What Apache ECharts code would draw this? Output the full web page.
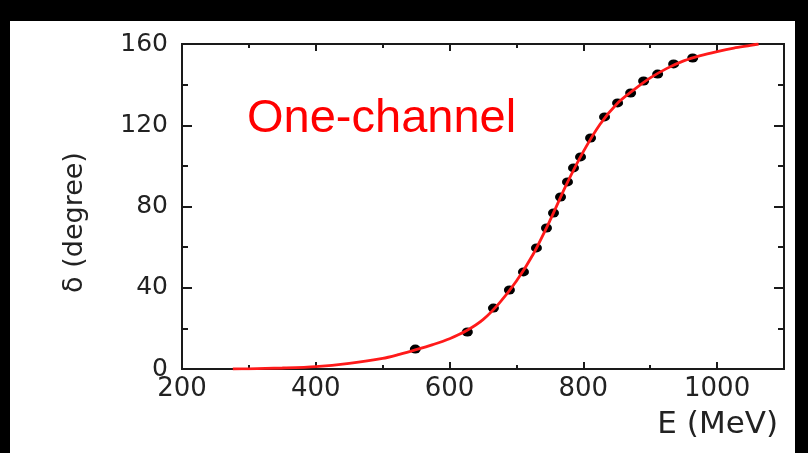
<!DOCTYPE html>
<html><head><meta charset="utf-8">
<script src="https://cdn.jsdelivr.net/npm/echarts@6/dist/echarts.min.js"></script>
<style>html,body{margin:0;padding:0;background:#000}#c{width:808px;height:453px}</style>
</head><body><div id="c"></div><script>
const pointE = [548.8,626.6,665.6,689.5,710.5,729.9,744.9,755.4,765.9,776.3,785.3,795.8,810.8,831.7,851.2,870.7,890.1,911.1,935.0,963.5];
const pointDelta = [9.8,18.2,30.0,38.9,47.8,59.6,69.4,76.8,84.7,92.1,99.0,104.4,113.7,124.1,131.0,135.9,141.8,145.2,150.2,153.1];
const curveE = [276,300,350,400,450,500,525,550,575,600,625,650,675,700,725,750,775,800,825,850,875,900,925,950,975,1000,1025,1050,1062];
const curveDelta = [0,0.1,0.5,1.2,2.8,5.2,7.2,9.5,12,14.9,18.8,24.3,32.7,43.3,56.5,73,91,107,120.5,130.5,137.3,143.3,148,151.7,154.3,156.3,158,159.3,160];
const xTickLabels = [200,400,600,800,1000];
const yTickLabels = [0,40,80,120,160];
const xName = 'E (MeV)';
const yName = 'δ (degree)';
const annotation = 'One-channel';

const chart = echarts.init(document.getElementById('c'));
const axisCol = '#1a1a1a';
const labelCol = '#222';
function xAx(pos, major, withLabel) {
  return {
    type: 'value', position: pos, min: 200, max: 1100, interval: major ? 200 : 100,
    axisLine: { show: true, onZero: false, lineStyle: { color: axisCol, width: 2 } },
    axisTick: { show: true, inside: true, length: major ? 7 : 4, lineStyle: { color: axisCol, width: 2 } },
    splitLine: { show: false },
    axisLabel: withLabel ? {
      show: true, margin: 7, color: labelCol, fontFamily: 'DejaVu Sans', fontSize: 26,
      formatter: v => xTickLabels.indexOf(v) >= 0 ? String(v) : ''
    } : { show: false },
    name: withLabel ? xName : '',
    nameLocation: 'end', nameGap: -6,
    nameTextStyle: { color: labelCol, fontFamily: 'DejaVu Sans', fontSize: 31, align: 'right', verticalAlign: 'top', padding: [40, 0, 0, 0] }
  };
}
function yAx(pos, withLabel) {
  return {
    type: 'value', position: pos, min: 0, max: 160, interval: 40,
    axisLine: { show: true, onZero: false, lineStyle: { color: axisCol, width: 2 } },
    axisTick: { show: true, inside: true, length: 10, lineStyle: { color: axisCol, width: 2 } },
    minorTick: { show: true, splitNumber: 2, length: 6, lineStyle: { color: axisCol, width: 2 } },
    splitLine: { show: false }, minorSplitLine: { show: false },
    axisLabel: withLabel ? {
      show: true, margin: 14, color: labelCol, fontFamily: 'DejaVu Sans', fontSize: 25,
      formatter: v => yTickLabels.indexOf(v) >= 0 ? String(v) : ''
    } : { show: false },
    name: withLabel ? yName : '',
    nameLocation: 'middle', nameGap: 94,
    nameTextStyle: { color: labelCol, fontFamily: 'DejaVu Sans', fontSize: 27, padding: [0, 32, 0, 0] }
  };
}
chart.setOption({
  backgroundColor: '#000',
  animation: false,
  graphic: [
    { type: 'rect', z: -10, shape: { x: 10, y: 21, width: 785, height: 432 }, style: { fill: '#fff' } },
    { type: 'text', z: 10, left: 247, top: 96, style: { text: annotation, fill: '#ff0000', fontFamily: 'Liberation Sans', fontSize: 47 } }
  ],
  grid: { left: 182, right: 24, top: 44, bottom: 84, containLabel: false },
  xAxis: [xAx('bottom', true, true), xAx('top', true, false), xAx('top', false, false), xAx('bottom', false, false)],
  yAxis: [yAx('left', true), yAx('right', false)],
  series: [
    { type: 'scatter', xAxisIndex: 0, yAxisIndex: 0, z: 2, symbol: 'circle', symbolSize: [11, 9],
      itemStyle: { color: '#000', opacity: 1 }, data: pointE.map((e, i) => [e, pointDelta[i]]) },
    { type: 'line', xAxisIndex: 0, yAxisIndex: 0, z: 3, smooth: 0.3, showSymbol: false, symbol: 'none',
      lineStyle: { color: '#ff1a1a', width: 2.8 }, data: curveE.map((e, i) => [e, curveDelta[i]]) }
  ]
});
</script></body></html>
